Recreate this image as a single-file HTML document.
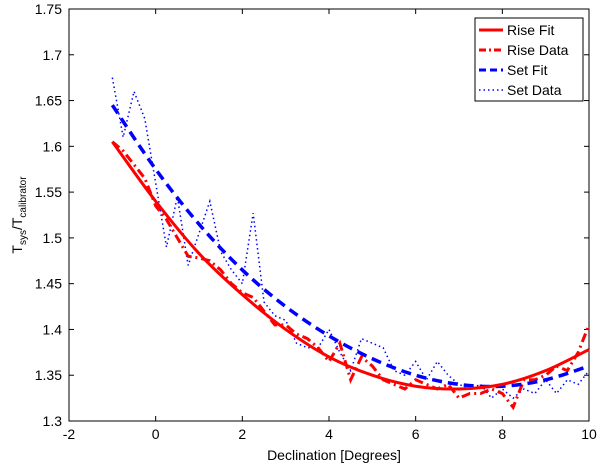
<!DOCTYPE html>
<html><head><meta charset="utf-8"><style>
body{margin:0;background:#fff;}
svg text{font-family:"Liberation Sans",sans-serif;font-size:14px;fill:#000;}
</style></head><body>
<svg id="chart" width="600" height="466" xmlns="http://www.w3.org/2000/svg">
<rect x="0" y="0" width="600" height="466" fill="#fff"/>
<g id="axes"></g>
<g id="series"></g>
<g>
<rect x="475" y="18" width="108" height="83" fill="#fff" stroke="#000" stroke-width="1"/>
<line x1="479" y1="30" x2="503" y2="30" stroke="#f00" stroke-width="3"/>
<text x="507" y="35">Rise Fit</text>
<line x1="479" y1="50" x2="503" y2="50" stroke="#f00" stroke-width="3" stroke-dasharray="7,3,2,3"/>
<text x="507" y="55">Rise Data</text>
<line x1="479" y1="70" x2="503" y2="70" stroke="#00f" stroke-width="3" stroke-dasharray="7,4"/>
<text x="507" y="75">Set Fit</text>
<line x1="479" y1="90" x2="503" y2="90" stroke="#00f" stroke-width="1.5" stroke-dasharray="1.5,3"/>
<text x="507" y="95">Set Data</text>
</g>
<text x="334" y="460" text-anchor="middle">Declination [Degrees]</text>
<text transform="translate(22,215) rotate(-90)" text-anchor="middle">T<tspan font-size="10" dy="4">sys</tspan><tspan dy="-4">/T</tspan><tspan font-size="10" dy="4">calibrator</tspan></text>
</svg>
<script>
const xTicks=[-2,0,2,4,6,8,10];
const yTicks=[1.3,1.35,1.4,1.45,1.5,1.55,1.6,1.65,1.7,1.75];
const yTickLabels=["1.3","1.35","1.4","1.45","1.5","1.55","1.6","1.65","1.7","1.75"];
const fitX=[-1,0,1,2,3,4,5,6,7,8,9,10];
const riseFit=[1.605,1.54,1.483,1.438,1.40,1.37,1.35,1.338,1.335,1.34,1.355,1.378];
const setFit=[1.645,1.575,1.515,1.465,1.425,1.393,1.368,1.35,1.34,1.338,1.345,1.36];
const dataX=[-1,-0.75,-0.5,-0.25,0,0.25,0.5,0.75,1,1.25,1.5,1.75,2,2.25,2.5,2.75,3,3.25,3.5,3.75,4,4.25,4.5,4.75,5,5.25,5.5,5.75,6,6.25,6.5,6.75,7,7.25,7.5,7.75,8,8.25,8.5,8.75,9,9.25,9.5,9.75,10];
const riseData=[1.605,1.595,1.58,1.565,1.535,1.52,1.5,1.48,1.478,1.475,1.465,1.45,1.44,1.435,1.42,1.405,1.405,1.395,1.39,1.38,1.365,1.385,1.345,1.37,1.36,1.345,1.34,1.335,1.345,1.34,1.335,1.34,1.325,1.33,1.33,1.335,1.33,1.315,1.345,1.345,1.35,1.36,1.355,1.375,1.405];
const setData=[1.675,1.61,1.66,1.63,1.56,1.49,1.545,1.47,1.505,1.54,1.485,1.465,1.45,1.527,1.43,1.415,1.41,1.385,1.38,1.38,1.40,1.375,1.355,1.39,1.385,1.38,1.355,1.35,1.365,1.345,1.365,1.35,1.34,1.335,1.34,1.325,1.335,1.325,1.335,1.33,1.345,1.33,1.345,1.34,1.355];
const L=69,R=589,T=9,B=421;
const sx=v=>L+(v+2)/12*(R-L);
const sy=v=>B-(v-1.3)/0.45*(B-T);
const NS="http://www.w3.org/2000/svg";
const axes=document.getElementById('axes');
function mk(tag,attrs,parent){const e=document.createElementNS(NS,tag);for(const k in attrs)e.setAttribute(k,attrs[k]);parent.appendChild(e);return e;}
const frame=mk('rect',{x:L,y:T,width:R-L,height:B-T,fill:'none',stroke:'#000','stroke-width':1},axes);


xTicks.forEach(v=>{const x=sx(v);
mk('line',{x1:x,y1:B,x2:x,y2:B-5,stroke:'#000'},axes);
mk('line',{x1:x,y1:T,x2:x,y2:T+5,stroke:'#000'},axes);
const t=mk('text',{x:x,y:B+18,'text-anchor':'middle'},axes);t.textContent=v;

});
yTicks.forEach((v,i)=>{const y=sy(v);
mk('line',{x1:L,y1:y,x2:L+5,y2:y,stroke:'#000'},axes);
mk('line',{x1:R,y1:y,x2:R-5,y2:y,stroke:'#000'},axes);
const t=mk('text',{x:L-7,y:y+5,'text-anchor':'end'},axes);t.textContent=yTickLabels[i];

});
const ser=document.getElementById('series');
function smooth(xs,ys){const p=xs.map((x,i)=>[sx(x),sy(ys[i])]);let d='M'+p[0][0]+','+p[0][1];
for(let i=0;i<p.length-1;i++){const p0=p[Math.max(0,i-1)],p1=p[i],p2=p[i+1],p3=p[Math.min(p.length-1,i+2)];
d+=' C'+(p1[0]+(p2[0]-p0[0])/6)+','+(p1[1]+(p2[1]-p0[1])/6)+' '+(p2[0]-(p3[0]-p1[0])/6)+','+(p2[1]-(p3[1]-p1[1])/6)+' '+p2[0]+','+p2[1];}return d;}
function poly(xs,ys){return xs.map((x,i)=>(i?'L':'M')+sx(x)+','+sy(ys[i])).join(' ');}
const a=mk('path',{d:poly(dataX,setData),fill:'none',stroke:'#00f','stroke-width':1.5,'stroke-dasharray':'1.5,3'},ser);


const b=mk('path',{d:poly(dataX,riseData),fill:'none',stroke:'#f00','stroke-width':3,'stroke-dasharray':'9,4,2,4'},ser);


const c=mk('path',{d:smooth(fitX,setFit),fill:'none',stroke:'#00f','stroke-width':3.5,'stroke-dasharray':'10,6'},ser);


const d=mk('path',{d:smooth(fitX,riseFit),fill:'none',stroke:'#f00','stroke-width':3},ser);


</script>
</body></html>
